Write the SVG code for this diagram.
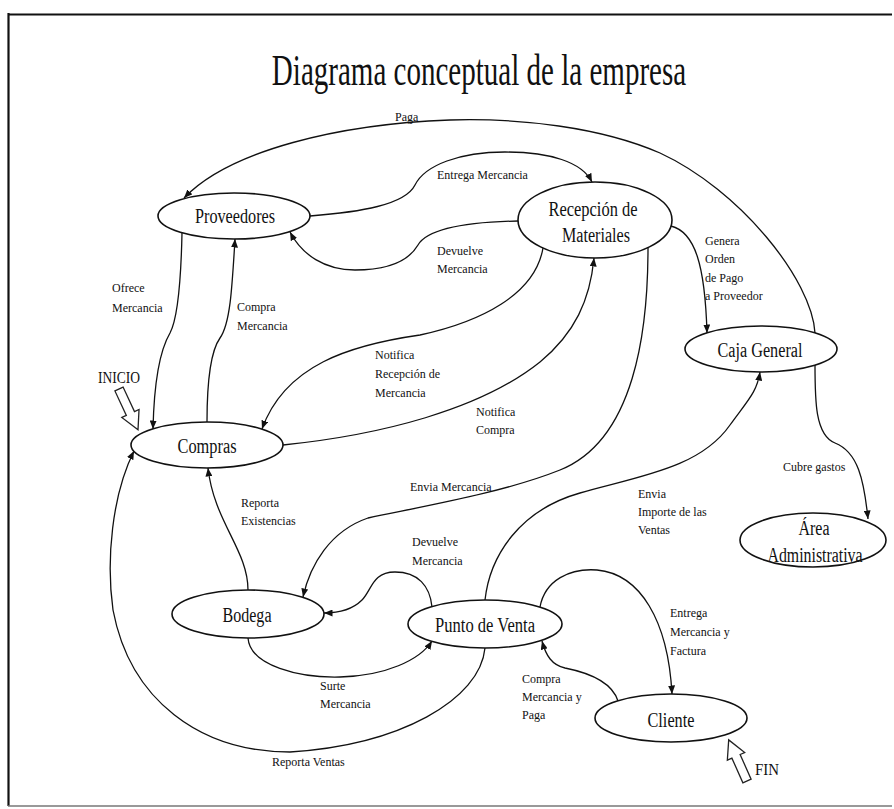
<svg xmlns="http://www.w3.org/2000/svg" width="894" height="809" viewBox="0 0 894 809">
  <style>
    .node ellipse { fill: #ffffff; stroke: #111111; stroke-width: 1.6; }
    .node text { font-family: "Liberation Serif", "Times New Roman", serif; font-size: 20px; fill: #111111; text-anchor: middle; }
    .edge { fill: none; stroke: #111111; stroke-width: 1.3; marker-end: url(#tip); }
    .lbl { font-family: "Liberation Serif", "Times New Roman", serif; font-size: 12px; fill: #111111; }
    .big { font-family: "Liberation Serif", "Times New Roman", serif; fill: #111111; }
    .block { fill: #ffffff; stroke: #222222; stroke-width: 1.3; stroke-linejoin: miter; }
  </style>
  <defs>
    <marker id="tip" markerUnits="userSpaceOnUse" markerWidth="9" markerHeight="7" refX="8.5" refY="3.5" orient="auto">
      <path d="M0,0 L8.5,3.5 L0,7 z" fill="#111111"/>
    </marker>
  </defs>

  <rect x="0" y="0" width="894" height="809" fill="#ffffff"/>

  <!-- frame -->
  <g id="frame" fill="none">
    <line x1="8.5" y1="13" x2="8.5" y2="806" stroke="#111111" stroke-width="2.2"/>
    <line x1="8" y1="14.5" x2="892" y2="14.5" stroke="#111111" stroke-width="2.2"/>
    <line x1="8" y1="806" x2="892" y2="806" stroke="#777777" stroke-width="1.6"/>
  </g>

  <!-- title, drawn condensed -->
  <g transform="translate(479,85) scale(0.66,1)">
    <text class="big" x="0" y="0" font-size="44" text-anchor="middle">Diagrama conceptual de la empresa</text>
  </g>

  <!-- connectors -->
  <g id="connectors">
    <path id="e-paga" class="edge" d="M 815 333 C 812 280, 740 190, 660 153 C 600 127, 520 118, 450 120 C 340 124, 230 150, 184 198"/>
    <path id="e-entrega" class="edge" d="M 310 216 C 360 212, 405 205, 415 185 C 425 165, 460 152, 505 152 C 550 152, 582 162, 592 182"/>
    <path id="e-devuelve-prov" class="edge" d="M 518 221 C 470 222, 428 228, 418 245 C 408 262, 385 270, 355 270 C 325 270, 302 255, 290 232"/>
    <path id="e-genera" class="edge" d="M 671 226 C 695 232, 705 265, 707 333"/>
    <path id="e-ofrece" class="edge" d="M 182 233 C 181 280, 178 318, 170 333 C 160 350, 154 385, 153 429"/>
    <path id="e-compra" class="edge" d="M 207 422 C 207 382, 210 352, 220 338 C 230 324, 232 290, 235 239"/>
    <path id="e-notifica-rec" class="edge" d="M 543 248 C 535 295, 480 322, 420 335 C 350 345, 285 365, 262 429"/>
    <path id="e-notifica-compra" class="edge" d="M 283 445 C 380 435, 480 410, 540 362 C 575 333, 590 300, 594 258"/>
    <path id="e-envia-merc" class="edge" d="M 648 248 C 648 330, 635 440, 560 470 C 505 492, 430 505, 368 518 C 330 531, 310 565, 303 597"/>
    <path id="e-existencias" class="edge" d="M 248 590 C 248 550, 214 522, 208 468"/>
    <path id="e-devuelve-bod" class="edge" d="M 432 607 C 430 586, 418 572, 395 572 C 372 572, 372 590, 362 600 C 352 610, 340 613, 324 613"/>
    <path id="e-surte" class="edge" d="M 248 638 C 250 666, 300 678, 340 677 C 385 676, 420 660, 432 641"/>
    <path id="e-reporta-ventas" class="edge" d="M 485 648 C 480 700, 400 745, 290 752 C 200 752, 130 700, 113 610 C 106 560, 112 495, 134 451"/>
    <path id="e-importe" class="edge" d="M 485 600 C 490 555, 520 510, 580 493 C 640 476, 700 468, 730 425 C 748 400, 757 392, 760 372"/>
    <path id="e-gastos" class="edge" d="M 815 365 C 815 400, 815 435, 835 443 C 858 452, 864 480, 868 519"/>
    <path id="e-factura" class="edge" d="M 540 607 C 545 580, 570 568, 597 570 C 640 574, 668 620, 672 694"/>
    <path id="e-paga-cliente" class="edge" d="M 618 701 C 612 682, 590 673, 565 668 C 552 665, 546 656, 542 641"/>
  </g>

  <!-- connector labels -->
  <g id="labels">
    <text class="lbl" x="395" y="121">Paga</text>
    <text class="lbl" x="437" y="179">Entrega Mercancia</text>
    <text class="lbl" x="437" y="255">Devuelve</text>
    <text class="lbl" x="437" y="273">Mercancia</text>
    <text class="lbl" x="705" y="245">Genera</text>
    <text class="lbl" x="705" y="263">Orden</text>
    <text class="lbl" x="705" y="282">de Pago</text>
    <text class="lbl" x="705" y="300">a Proveedor</text>
    <text class="lbl" x="112" y="292">Ofrece</text>
    <text class="lbl" x="112" y="312">Mercancia</text>
    <text class="lbl" x="237" y="311">Compra</text>
    <text class="lbl" x="237" y="330">Mercancia</text>
    <text class="lbl" x="375" y="359">Notifica</text>
    <text class="lbl" x="375" y="378">Recepción de</text>
    <text class="lbl" x="375" y="397">Mercancia</text>
    <text class="lbl" x="476" y="416">Notifica</text>
    <text class="lbl" x="476" y="434">Compra</text>
    <text class="lbl" x="410" y="491">Envia Mercancia</text>
    <text class="lbl" x="241" y="507">Reporta</text>
    <text class="lbl" x="241" y="525">Existencias</text>
    <text class="lbl" x="412" y="546">Devuelve</text>
    <text class="lbl" x="412" y="565">Mercancia</text>
    <text class="lbl" x="320" y="690">Surte</text>
    <text class="lbl" x="320" y="708">Mercancia</text>
    <text class="lbl" x="272" y="766">Reporta Ventas</text>
    <text class="lbl" x="638" y="498">Envia</text>
    <text class="lbl" x="638" y="516">Importe de las</text>
    <text class="lbl" x="638" y="534">Ventas</text>
    <text class="lbl" x="783" y="471">Cubre gastos</text>
    <text class="lbl" x="670" y="617">Entrega</text>
    <text class="lbl" x="670" y="636">Mercancia y</text>
    <text class="lbl" x="670" y="655">Factura</text>
    <text class="lbl" x="522" y="683">Compra</text>
    <text class="lbl" x="522" y="701">Mercancia y</text>
    <text class="lbl" x="522" y="719">Paga</text>
  </g>

  <!-- nodes -->
  <g id="n-proveedores" class="node">
    <ellipse cx="234" cy="216" rx="76" ry="23"/>
    <text x="235" y="223" textLength="80" lengthAdjust="spacingAndGlyphs">Proveedores</text>
  </g>
  <g id="n-recepcion" class="node">
    <ellipse cx="595" cy="220" rx="77" ry="38"/>
    <text x="593" y="216" textLength="89" lengthAdjust="spacingAndGlyphs">Recepción de</text>
    <text x="596" y="242" textLength="68" lengthAdjust="spacingAndGlyphs">Materiales</text>
  </g>
  <g id="n-caja" class="node">
    <ellipse cx="761" cy="349" rx="76" ry="23"/>
    <text x="760" y="357" textLength="85" lengthAdjust="spacingAndGlyphs">Caja General</text>
  </g>
  <g id="n-area" class="node">
    <ellipse cx="813" cy="540" rx="73" ry="27"/>
    <text x="814" y="535" textLength="31" lengthAdjust="spacingAndGlyphs">Área</text>
    <text x="815" y="562" textLength="95" lengthAdjust="spacingAndGlyphs">Administrativa</text>
  </g>
  <g id="n-compras" class="node">
    <ellipse cx="207" cy="445" rx="76" ry="23"/>
    <text x="207" y="453" textLength="59" lengthAdjust="spacingAndGlyphs">Compras</text>
  </g>
  <g id="n-bodega" class="node">
    <ellipse cx="248" cy="614" rx="76" ry="24"/>
    <text x="247" y="622" textLength="49" lengthAdjust="spacingAndGlyphs">Bodega</text>
  </g>
  <g id="n-punto-venta" class="node">
    <ellipse cx="485" cy="624" rx="77" ry="24"/>
    <text x="485" y="632" textLength="100" lengthAdjust="spacingAndGlyphs">Punto de Venta</text>
  </g>
  <g id="n-cliente" class="node">
    <ellipse cx="671" cy="718" rx="76" ry="24"/>
    <text x="671" y="727" textLength="47" lengthAdjust="spacingAndGlyphs">Cliente</text>
  </g>

  <!-- start / end markers -->
  <g id="inicio">
    <text class="big" x="98" y="383" font-size="16" textLength="42" lengthAdjust="spacingAndGlyphs">INICIO</text>
    <polygon class="block" transform="translate(119,389) rotate(-25)" points="-4.5,0 4.5,0 4.5,27 9.5,27 0,45 -9.5,27 -4.5,27"/>
  </g>
  <g id="fin">
    <text class="big" x="755" y="775" font-size="16" textLength="24" lengthAdjust="spacingAndGlyphs">FIN</text>
    <polygon class="block" transform="translate(747,781) rotate(156)" points="-4.5,0 4.5,0 4.5,27 9.5,27 0,45 -9.5,27 -4.5,27"/>
  </g>
</svg>
